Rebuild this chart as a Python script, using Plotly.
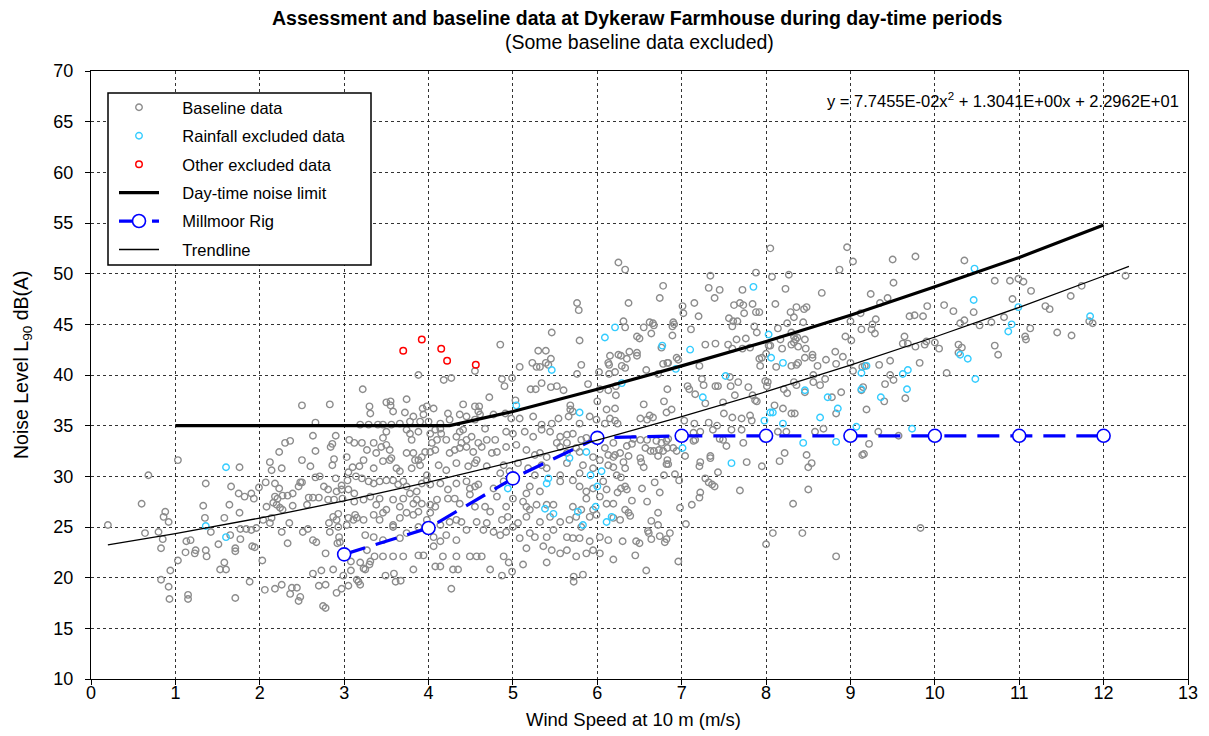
import plotly.graph_objects as go

# ---------------- data ----------------
baseline_ws_0_3 = [
(0.20,25.2),(0.60,27.3),(0.64,24.4),(0.68,30.1),(0.80,24.5),(0.85,23.8),(0.83,22.9),(0.88,26.5),(0.86,26.0),(0.92,25.5),
(0.94,20.7),(0.83,19.8),(0.92,19.1),(0.93,17.9),(1.03,21.7),(1.03,31.6),(1.15,18.3),(1.15,17.9),(1.13,23.6),(1.18,23.7),
(1.12,22.5),(1.23,22.4),(1.24,22.7),(1.36,22.7),(1.37,22.1),(1.33,27.1),(1.35,25.9),(1.36,29.3),(1.42,24.5),(1.51,23.3),
(1.58,25.9),(1.65,24.2),(1.64,27.2),(1.66,29.0),(1.76,26.4),(1.76,30.9),(1.77,23.8),(1.71,22.9),(1.71,22.6),(1.58,21.5),
(1.53,20.8),(1.60,20.8),(1.71,18.0),(1.88,19.6),(1.75,28.3),(1.82,28.0),(1.90,28.3),(1.93,27.8),(1.77,24.8),(1.84,24.8),
(1.90,24.7),(1.96,24.9),(1.91,23.1),(1.94,23.0),(1.99,28.9),(2.03,21.7),(2.06,18.8),(2.18,18.9),(2.26,19.3),(2.38,19.0),
(2.44,19.0),(2.36,18.4),(2.48,18.1),(2.46,17.7),(2.04,25.7),(2.12,25.4),(2.14,25.9),(2.20,27.2),(2.24,26.9),(2.27,26.7),
(2.35,25.4),(2.26,24.5),(2.08,27.0),(2.16,27.4),(2.07,29.4),(2.18,29.3),(2.23,28.8),(2.12,31.4),(2.14,30.6),(2.26,30.8),
(2.23,32.4),(2.30,33.3),(2.36,33.5),(2.18,28.0),(2.21,27.8),(2.27,28.1),(2.33,28.1),(2.39,28.3),(2.33,23.4),(2.51,24.5),
(2.57,24.8),(2.39,27.1),(2.56,27.2),(2.48,29.4),(2.50,29.4),(2.46,29.0),(2.50,31.6),(2.60,31.0),(2.50,37.0),(2.66,35.3),
(2.63,34.0),(2.66,32.5),(2.58,27.9),(2.63,27.9),(2.70,27.9),(2.63,23.7),(2.67,23.5),(2.78,22.4),(2.63,20.4),(2.73,20.7),
(2.87,20.8),(2.70,19.2),(2.78,19.3),(2.75,17.2),(2.78,17.0),(2.71,30.0),(2.66,29.9),(2.76,29.0),(2.82,25.4),(2.83,24.5),
(2.87,26.0),(2.91,25.7),(2.93,25.0),(2.94,24.0),(2.95,23.5),(2.92,23.4),(2.93,26.3),(2.81,27.7),(2.88,27.7),(2.98,27.8),
(2.81,28.7),(2.91,28.5),(2.97,28.7),(2.90,29.8),(2.97,29.1),(2.86,31.1),(2.88,31.7),(2.86,33.2),(2.84,32.9),(2.90,34.0),
(2.91,18.5),(2.97,18.9),(2.99,20.2),(3.05,19.2),(3.08,20.7),(3.08,21.6),(3.15,19.8),(3.17,19.6),(3.19,19.3),(3.19,21.5),
(3.03,31.9),(3.10,30.9),(3.18,31.0),(3.14,30.0),(3.05,30.4),(3.04,29.6),(3.05,28.7),(3.12,28.3),(3.12,27.5),(3.06,33.6),
(3.12,33.3),(3.13,26.2),(3.15,25.9),(3.05,25.9),(3.03,25.2),(3.11,25.7),(2.83,37.1),
]

baseline_ws_3_6 = [
# upper part
(3.22,38.6),(3.30,36.9),(3.50,37.3),(3.55,37.4),(3.55,37.0),(3.74,37.6),(3.88,40.0),(3.93,36.7),(3.98,36.9),(4.06,36.7),
(4.18,39.5),(4.27,39.7),(4.41,37.1),(4.55,40.4),(4.55,36.9),(4.60,36.9),(4.72,37.8),(4.85,43.0),(4.87,39.6),(4.90,38.9),
(4.99,39.7),(5.03,37.5),(5.08,40.8),(5.21,38.6),(5.27,38.6),(5.23,41.2),(5.28,40.8),(5.32,40.8),(5.30,42.4),(5.39,42.4),
(5.34,39.2),(5.39,41.2),(5.42,41.0),(5.45,41.6),(5.46,44.2),(5.45,38.8),(5.52,38.9),(5.60,38.5),(5.68,37.0),(5.68,36.6),
(5.76,47.1),(5.78,46.4),(5.79,43.4),(5.76,40.1),(5.81,41.0),(5.89,39.1),(6.00,37.4),(6.02,40.3),(6.13,41.2),(6.15,41.9),
(6.14,41.0),(6.14,40.1),(6.21,40.3),(6.13,38.5),(6.03,38.6),(6.11,36.6),
# around 35-36.6
(3.31,36.2),(3.58,36.4),(3.72,36.3),(3.82,35.9),(3.94,36.1),(4.23,36.2),(4.37,36.1),(4.45,35.9),(4.55,35.6),(4.59,36.4),
(4.61,36.1),(4.77,36.1),(4.91,36.2),(4.98,35.7),(5.08,35.7),(5.24,35.9),(5.34,35.1),(5.46,35.2),(5.54,35.7),(5.66,35.9),
(5.71,36.4),(5.79,35.2),(5.91,35.9),(5.99,35.6),(6.09,35.2),(6.15,35.7),(3.19,35.1),(3.29,35.1),(3.40,35.1),(3.46,35.1),
(3.56,35.1),(3.66,35.2),(3.78,35.4),(3.90,35.4),(4.00,35.4),(4.14,35.2),(4.25,35.6),
# 33-35
(3.35,33.3),(3.46,33.8),(3.50,34.4),(3.78,34.2),(3.74,34.6),(3.80,33.6),(3.88,34.4),(4.02,34.2),(4.08,34.6),(4.14,34.7),
(4.15,34.2),(4.10,33.6),(4.04,33.3),(4.21,33.6),(4.33,33.9),(4.37,34.4),(4.41,34.6),(4.45,33.6),(4.51,33.9),(4.59,33.3),
(4.67,34.7),(4.69,33.6),(4.79,33.6),(4.92,34.4),(5.00,34.2),(5.14,34.4),(5.24,33.9),(5.34,34.6),(5.44,34.4),(5.56,33.9),
(5.64,34.1),(5.71,34.2),(5.81,33.6),(5.87,33.8),(5.64,33.3),(5.52,33.3),
# 31.5-33.3
(3.21,33.3),(3.27,32.6),(3.38,32.3),(3.44,32.9),(3.50,33.1),(3.54,32.6),(3.56,31.8),(3.74,32.3),(3.82,32.3),(3.88,31.6),
(3.92,31.9),(3.96,32.4),(4.02,32.4),(4.08,32.6),(4.25,32.3),(4.31,32.6),(4.37,32.8),(4.39,33.3),(4.45,32.9),(4.53,32.4),
(4.63,32.9),(4.75,32.3),(4.81,32.4),(4.92,32.9),(5.04,33.1),(5.16,32.6),(5.26,32.1),(5.32,32.3),(5.40,31.9),(5.56,32.9),
(5.64,32.3),(5.75,32.8),(5.79,32.4),(5.95,31.9),(6.09,32.8),(6.13,32.1),(6.19,31.9),(6.19,33.3),
# 30-31.6
(3.23,31.6),(3.35,30.8),(3.46,31.5),(3.54,31.6),(3.62,30.8),(3.66,30.5),(3.80,30.8),(3.84,31.6),(3.90,31.1),(3.98,30.1),
(4.12,31.1),(4.21,30.6),(4.33,31.3),(4.47,31.0),(4.55,31.3),(4.57,31.6),(4.69,31.0),(4.89,31.1),(4.85,30.3),(4.96,30.5),
(5.06,31.3),(5.18,30.8),(5.26,30.1),(5.34,31.1),(5.40,30.8),(5.56,30.1),(5.64,31.3),(5.79,30.3),(5.83,31.1),(5.95,30.8),
(6.03,31.6),(6.13,31.1),
# 28-30
(3.21,29.8),(3.29,29.5),(3.35,29.3),(3.42,29.5),(3.50,29.6),(3.58,29.6),(3.64,29.2),(3.70,29.5),(3.74,29.0),(3.78,28.3),
(3.86,28.5),(3.92,29.3),(3.98,29.6),(4.02,29.2),(4.14,29.3),(4.23,28.7),(4.33,29.3),(4.45,29.5),(4.49,28.8),(4.55,29.0),
(4.59,29.2),(4.77,28.8),(4.89,29.5),(5.00,27.8),(5.16,28.3),(5.20,29.0),(5.32,28.5),(5.56,29.5),(5.71,29.6),(5.79,29.0),
(5.87,28.5),(5.95,28.8),(6.07,29.5),(6.11,28.7),
# 26.5-28
(3.23,27.7),(3.31,28.0),(3.38,27.2),(3.42,27.8),(3.50,26.7),(3.58,27.7),(3.66,27.0),(3.70,27.8),(3.82,27.3),(3.86,27.7),
(3.92,27.3),(4.02,27.2),(4.08,27.0),(4.10,27.7),(4.23,27.8),(4.31,27.8),(4.37,27.3),(4.49,28.2),(4.55,27.0),(4.67,27.0),
(4.81,28.0),(4.92,27.0),(5.12,27.5),(5.16,27.0),(5.28,27.2),(5.40,27.2),(5.48,27.2),(5.71,27.0),(5.81,26.7),(5.87,27.8),
(5.95,26.7),(6.03,28.0),(6.11,27.3),
# 25-26.5
(3.23,25.7),(3.35,26.2),(3.42,25.7),(3.46,26.4),(3.58,25.2),(3.66,25.9),(3.74,26.4),(3.82,26.2),(3.88,26.5),(3.98,25.7),
(4.02,26.4),(4.14,25.2),(4.25,25.5),(4.33,25.7),(4.39,25.5),(4.57,25.5),(4.69,25.4),(4.73,26.5),(4.87,25.7),(4.94,26.0),
(5.06,25.4),(5.16,26.0),(5.20,26.7),(5.32,25.5),(5.44,26.0),(5.56,25.5),(5.67,25.7),(5.75,26.0),(5.81,25.0),(5.91,26.0),
(5.99,26.2),
# 23.5-25
(3.25,24.2),(3.35,24.0),(3.46,23.7),(3.58,25.0),(3.66,23.9),(3.74,24.4),(3.88,25.0),(4.06,24.0),(4.14,23.6),(4.21,24.2),
(4.33,23.7),(4.45,24.7),(4.65,24.7),(4.77,24.5),(4.85,24.2),(4.92,24.5),(5.00,25.0),(5.08,23.9),(5.20,24.4),(5.26,24.0),
(5.40,24.0),(5.48,24.7),(5.64,24.0),(5.71,23.9),(5.79,23.9),(5.91,23.6),(6.03,24.0),(6.13,23.7),
# 21.7-23.5
(3.27,22.7),(3.36,22.1),(3.46,22.1),(3.58,22.1),(3.70,22.1),(3.88,22.2),(3.94,22.2),(4.06,23.1),(4.17,22.1),(4.33,22.1),
(4.49,22.1),(4.57,22.1),(4.63,22.1),(4.89,22.1),(5.16,22.9),(5.36,23.1),(5.46,22.7),(5.56,22.4),(5.64,22.7),(5.75,22.1),
(5.87,22.4),(5.95,22.7),(6.03,22.4),
# below 21.7
(3.25,20.8),(3.30,21.3),(3.31,21.6),(3.23,20.9),(3.49,20.2),(3.59,20.4),(3.61,19.6),(3.67,19.7),(3.82,20.8),(4.08,21.1),
(4.14,21.1),(4.29,20.8),(4.35,20.8),(4.27,18.9),(4.95,21.5),(4.99,20.6),(4.87,20.2),(4.73,20.8),(5.12,21.3),(5.40,21.5),
(5.72,20.1),(5.72,19.6),(5.83,20.3),
]

baseline_ws_6_9 = [
(6.25,51.1),(6.33,50.4),(6.37,47.1),(6.31,45.3),(6.33,44.7),(6.47,43.8),(6.50,43.6),(6.25,42.0),(6.28,41.9),(6.35,41.6),
(6.38,42.3),(6.47,42.2),(6.47,41.9),(6.29,40.9),(6.33,40.7),(6.22,38.9),(6.22,38.0),(6.21,36.7),(6.21,35.5),(6.55,44.7),
(6.62,45.2),(6.66,45.1),(6.67,44.9),(6.64,44.1),(6.74,47.6),(6.78,48.8),(6.76,42.7),(6.58,40.5),(6.72,40.1),(6.78,41.1),
(6.83,41.2),(6.84,41.2),(6.89,44.8),(6.91,45.0),(6.89,43.9),(6.90,45.2),(6.94,41.7),(6.96,41.5),(6.83,38.6),(6.79,37.4),
(6.55,37.1),(6.82,36.3),(6.88,36.6),(6.62,36.0),(6.66,35.8),(6.51,35.7),(6.59,35.6),(6.24,35.2),(7.01,46.8),(7.02,46.1),
(7.11,44.5),(7.20,45.8),(7.21,40.9),(7.07,38.9),(7.09,38.6),(7.16,38.1),(7.24,39.6),(7.28,37.2),(7.03,35.5),(7.15,35.2),
(7.28,43.0),(7.40,43.1),(7.34,49.8),(7.32,48.6),(7.45,48.4),(7.39,47.6),(7.15,47.1),(7.40,38.9),(7.43,38.9),(7.26,39.0),
(7.49,37.3),(7.50,36.2),(7.32,35.3),(7.42,35.0),(7.55,43.0),(7.60,42.6),(7.56,45.6),(7.60,44.8),(7.61,45.3),(7.66,45.3),
(7.62,46.9),(7.69,47.1),(7.73,46.9),(7.74,46.1),(7.72,48.4),(7.84,47.0),(7.88,46.2),(7.92,46.2),(7.88,50.1),(7.65,43.5),
(7.72,42.6),(7.76,43.6),(7.81,42.7),(7.86,44.8),(7.89,44.2),(7.57,39.8),(7.58,38.9),(7.67,39.3),(7.63,38.0),(7.84,38.0),
(7.87,37.5),(7.79,38.8),(7.89,37.4),(7.60,35.8),(7.71,35.7),(7.81,36.0),(7.83,35.5),(7.93,40.9),(7.92,41.6),(7.95,41.7),
(7.99,39.4),(8.02,39.3),(8.01,38.9),(8.00,42.1),(8.03,42.9),(8.05,42.9),(8.07,49.7),(8.05,52.5),(8.12,40.8),(8.10,37.0),
(8.11,47.0),(8.14,44.6),(8.17,43.5),(8.19,42.6),(8.20,36.7),(8.23,48.5),(8.27,49.9),(8.21,38.6),(8.25,38.2),(8.29,46.2),
(8.33,45.7),(8.25,45.1),(8.30,44.2),(8.33,43.8),(8.35,43.5),(8.33,43.2),(8.30,43.0),(8.36,46.7),(8.37,43.7),(8.38,42.8),
(8.30,36.2),(8.34,36.2),(8.30,40.9),(8.36,41.0),(8.38,41.2),(8.33,39.3),(8.36,39.0),(8.45,46.5),(8.48,46.7),(8.44,45.2),
(8.46,43.5),(8.47,42.6),(8.46,41.7),(8.55,42.0),(8.55,41.7),(8.46,38.3),(8.56,40.0),(8.56,39.3),(8.64,39.0),(8.61,40.9),
(8.66,48.1),(8.70,39.6),(8.71,41.5),(8.78,37.8),(8.82,42.3),(8.83,41.1),(8.87,50.4),(8.89,38.3),(8.91,41.8),(8.83,36.2),
(8.94,43.8),(8.96,52.6),(9.03,51.2),(9.00,45.3),(9.01,43.4),(9.00,41.2),(9.03,40.4),(9.14,40.8),(9.17,40.9),(9.15,38.8),
(9.13,38.5),(9.19,36.6),(9.24,48.0),(9.12,46.1),(9.13,44.5),(9.26,45.0),(9.25,44.5),
# lower part
(6.43,33.7),(6.51,33.6),(6.59,33.6),(6.70,33.5),(6.76,33.3),(6.82,33.5),(6.84,33.7),(6.35,33.0),(6.41,33.2),(6.57,32.8),
(6.63,32.5),(6.67,32.5),(6.73,32.6),(6.78,32.5),(6.83,32.8),(6.90,32.8),(6.94,32.5),(6.21,32.1),(6.27,32.3),(6.37,32.0),
(6.51,31.8),(6.72,32.0),(6.83,31.6),(7.04,32.0),(6.31,31.4),(6.33,30.8),(6.52,31.4),(6.55,30.9),(6.82,31.2),(6.84,31.2),
(6.19,30.9),(6.23,30.1),(6.28,29.9),(6.79,30.1),(6.92,30.2),(6.28,28.8),(6.35,28.7),(6.24,28.4),(6.33,29.0),(6.53,28.8),
(6.68,29.4),(6.74,28.4),(6.97,29.6),(6.19,27.3),(6.41,27.6),(6.59,27.5),(6.72,26.4),(6.98,26.9),(6.33,26.7),(6.37,26.4),
(6.39,26.1),(6.19,25.9),(6.27,25.7),(6.64,25.6),(6.72,25.2),(7.05,25.3),(6.60,24.6),(6.61,24.4),(6.64,23.8),(6.74,24.1),
(6.80,23.5),(6.82,23.8),(6.86,24.4),(6.30,23.6),(6.46,23.6),(6.50,23.4),(6.45,22.2),(6.19,21.8),(6.58,20.7),(6.96,21.6),
(7.14,34.3),(7.16,33.6),(7.14,33.5),(7.22,34.4),(7.37,34.6),(7.45,33.7),(7.49,33.6),(7.53,33.0),(7.59,34.6),(7.71,34.6),
(7.73,33.3),(7.77,31.4),(7.95,31.0),(8.16,31.5),(8.22,32.3),(8.14,34.4),(8.24,34.4),(8.48,32.1),(8.50,30.9),(8.54,31.3),
(8.58,34.4),(8.68,34.7),(9.14,32.1),(9.22,33.2),(7.22,31.4),(7.21,31.0),(7.34,32.0),(7.34,31.8),(7.43,30.4),(7.28,29.8),
(7.32,29.4),(7.36,29.2),(7.39,29.0),(7.22,28.4),(7.21,27.9),(7.12,27.2),(7.69,28.6),(8.32,27.3),(8.50,28.7),(8.08,24.4),
(8.00,23.3),(8.43,24.4),(8.83,22.1),
]

baseline_ws_9_13 = [
(9.50,51.4),(9.77,51.7),(10.35,51.3),(9.51,49.1),(9.35,47.1),(9.44,47.6),(9.30,45.5),(9.29,44.1),(9.70,45.8),(9.76,45.9),
(9.86,45.8),(9.91,46.8),(10.11,46.9),(10.22,46.3),(10.46,46.2),(10.30,45.1),(10.35,45.4),(10.53,44.9),(10.67,45.2),(10.71,49.3),
(10.89,49.3),(10.99,49.5),(11.05,49.2),(11.14,48.3),(10.92,47.5),(10.82,45.7),(11.13,44.6),(11.07,43.8),(11.08,43.5),(11.31,46.8),
(11.36,46.5),(11.45,44.2),(11.62,43.9),(11.61,47.8),(11.74,48.8),(11.83,45.3),(11.87,45.1),(12.26,49.8),(9.62,43.1),(9.64,43.8),
(9.68,43.1),(9.77,42.8),(9.88,43.0),(9.90,43.3),(10.00,43.2),(10.05,42.6),(9.34,41.0),(9.47,41.4),(9.82,41.2),(9.47,40.0),
(9.51,39.5),(9.41,39.1),(9.65,37.7),(9.40,37.4),(9.33,34.4),(10.14,40.2),(10.28,43.0),(10.32,42.7),(10.28,42.2),(10.71,42.9),
(10.75,42.0),(9.16,32.2),(9.57,34.0),(9.83,24.9),
]

rainfall_excluded = [
(1.36,25.1),(1.60,24.0),(1.60,30.9),(5.46,40.5),(5.04,37.0),(6.09,43.7),(5.79,36.3),(4.94,28.8),(5.42,29.8),(5.40,29.3),
(5.67,31.8),(5.87,32.4),(5.92,30.1),(6.05,30.5),(6.00,29.0),(5.98,27.0),(5.38,26.8),(5.48,26.3),(5.77,26.5),(5.83,25.2),
(6.11,25.5),(6.17,26.0),(6.21,44.7),(6.29,39.2),(6.77,42.9),(6.93,40.6),(7.10,42.5),(7.25,37.8),(7.52,39.9),(7.85,48.7),
(8.03,44.0),(8.06,41.7),(8.20,41.2),(8.20,35.2),(8.05,36.3),(8.08,36.3),(7.98,35.5),(8.46,38.5),(8.64,35.8),(8.73,37.8),
(8.85,36.7),(9.13,40.2),(9.19,40.9),(9.13,38.6),(9.07,34.9),(7.01,32.8),(7.59,31.3),(8.44,33.3),(8.83,33.4),(10.47,50.5),
(10.46,47.4),(10.99,46.7),(10.91,45.0),(10.87,44.3),(11.84,45.8),(9.62,40.1),(9.68,40.5),(9.67,38.6),(9.36,37.8),(9.73,34.7),
(10.30,42.0),(10.39,41.6),(10.48,39.6),
]

other_excluded = [(3.70,42.4),(3.92,43.5),(4.15,42.6),(4.22,41.4),(4.56,41.0)]

limit_ws = [1, 2, 3, 4, 4.25, 5, 6, 7, 8, 9, 10, 11, 12]
limit_db = [35, 35, 35, 35, 35, 36.4, 38.6, 40.9, 43.3, 45.9, 48.7, 51.6, 54.8]

millmoor_ws = [3, 4, 5, 6, 7, 8, 9, 10, 11, 12]
millmoor_db = [22.3, 24.9, 29.8, 33.8, 34.0, 34.0, 34.0, 34.0, 34.0, 34.0]

trend_ws = [0.2, 1, 2, 3, 4, 5, 6, 7, 8, 9, 10, 11, 12, 12.3]
trend_db = [23.23, 24.34, 25.88, 27.57, 29.42, 31.42, 33.58, 35.89, 38.35, 40.97, 43.75, 46.68, 49.77, 50.72]

x_ticks = list(range(0, 14))
y_ticks = list(range(10, 75, 5))

FONT = "Liberation Sans, Arial, sans-serif"
PAD = "\u00a0" * 4  # gap between legend symbol and text


def split(points):
    return [p[0] for p in points], [p[1] for p in points]


base_pts = baseline_ws_0_3 + baseline_ws_3_6 + baseline_ws_6_9 + baseline_ws_9_13
bx, by = split(base_pts)
rx, ry = split(rainfall_excluded)
ox, oy = split(other_excluded)

fig = go.Figure()
fig.add_trace(go.Scatter(x=bx, y=by, mode="markers", name=PAD + "Baseline data", legendgroup="a",
                         marker=dict(symbol="circle-open", size=6.5, color="#8c8c8c", line=dict(width=1.4))))
fig.add_trace(go.Scatter(x=rx, y=ry, mode="markers", name=PAD + "Rainfall excluded data", legendgroup="b",
                         marker=dict(symbol="circle-open", size=6.5, color="#33ccff", line=dict(width=1.4))))
fig.add_trace(go.Scatter(x=ox, y=oy, mode="markers", name=PAD + "Other excluded data", legendgroup="c",
                         marker=dict(symbol="circle-open", size=6.5, color="#ff0000", line=dict(width=1.5))))
fig.add_trace(go.Scatter(x=limit_ws, y=limit_db, mode="lines", name=PAD + "Day-time noise limit", legendgroup="d",
                         line=dict(color="black", width=3.2)))
fig.add_trace(go.Scatter(x=millmoor_ws, y=millmoor_db, mode="lines+markers", name=PAD + "Millmoor Rig", legendgroup="e",
                         line=dict(color="#0000ff", width=3.2, dash="22px,11px"),
                         marker=dict(symbol="circle", size=13, color="white", line=dict(color="#0000ff", width=1.6))))
fig.add_trace(go.Scatter(x=trend_ws, y=trend_db, mode="lines", name=PAD + "Trendline", legendgroup="f",
                         line=dict(color="black", width=1.3)))

axis_common = dict(showgrid=True, gridcolor="#333333", griddash="dot", gridwidth=1,
                   showline=True, mirror=True, linecolor="black", linewidth=1.2,
                   ticks="outside", ticklen=5, tickcolor="black", zeroline=False,
                   tickfont=dict(family=FONT, size=18, color="black"))

fig.update_xaxes(range=[0, 13], tickvals=x_ticks, ticklabelstandoff=-8, **axis_common)
fig.update_yaxes(range=[10, 70], tickvals=y_ticks, ticklabelstandoff=8, **axis_common)

pw = 1188 - 91
ph = 679 - 71
fig.add_shape(type="rect", xref="paper", yref="paper",
              x0=(108 - 91) / pw, x1=(371 - 91) / pw, y0=(679 - 265) / ph, y1=(679 - 93) / ph,
              line=dict(color="black", width=1.5), fillcolor="white", layer="above")

fig.update_layout(
    width=1209, height=736,
    margin=dict(l=91, r=21, t=71, b=57),
    paper_bgcolor="white", plot_bgcolor="white",
    font=dict(family=FONT, color="black"),
    showlegend=True,
    legend=dict(x=(114 - 91) / pw, y=(679 - 90) / ph, xanchor="left", yanchor="top",
                bgcolor="rgba(0,0,0,0)", borderwidth=0, itemwidth=40,
                tracegroupgap=4, font=dict(family=FONT, size=16.5, color="black")),
    annotations=[
        dict(text="<b>Assessment and baseline data at Dykeraw Farmhouse during day-time periods</b>",
             xref="paper", yref="paper", x=(637 - 91) / pw, y=(679 - 18) / ph, showarrow=False,
             xanchor="center", yanchor="middle", font=dict(family=FONT, size=19.5)),
        dict(text="(Some baseline data excluded)",
             xref="paper", yref="paper", x=(639 - 91) / pw, y=(679 - 42) / ph, showarrow=False,
             xanchor="center", yanchor="middle", font=dict(family=FONT, size=19.5)),
        dict(text="y = 7.7455E-02x<sup>2</sup> + 1.3041E+00x + 2.2962E+01",
             xref="paper", yref="paper", x=(1181 - 91) / pw, y=(679 - 100) / ph, showarrow=False,
             xanchor="right", yanchor="middle", font=dict(family=FONT, size=16.5)),
        dict(text="Wind Speed at 10 m (m/s)",
             xref="paper", yref="paper", x=(633 - 91) / pw, y=(679 - 719) / ph, showarrow=False,
             xanchor="center", yanchor="middle", font=dict(family=FONT, size=18.5)),
        dict(text="Noise Level L<sub>90</sub> dB(A)", textangle=-90,
             xref="paper", yref="paper", x=(22 - 91) / pw, y=(679 - 365) / ph, showarrow=False,
             xanchor="center", yanchor="middle", font=dict(family=FONT, size=19.5)),
    ],
)

fig.write_html("out.html")
